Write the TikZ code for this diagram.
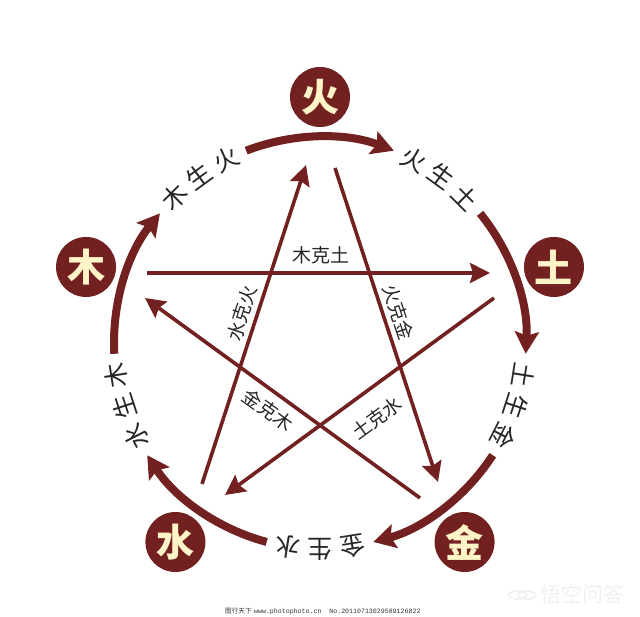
\documentclass[tikz,border=0pt]{standalone}
\usepackage{fontspec}
\newfontfamily\cjk{Noto Sans CJK SC}
\newfontfamily\monof{Liberation Mono}
\usetikzlibrary{arrows.meta,calc}
\definecolor{dkred}{HTML}{722020}
\definecolor{cream}{HTML}{FFF4C8}
\definecolor{wm}{HTML}{F0F0F0}
\tikzset{
  elem/.style={circle,fill=dkred,minimum size=60pt,inner sep=0pt,text=cream,
    font=\cjk\bfseries\fontsize{38}{38}\selectfont},
  ring/.style={draw=dkred,line width=8pt,-{Stealth[length=22pt,width=24pt,inset=4pt]}},
  ke/.style={draw=dkred,line width=3.6pt,-{Stealth[length=20pt,width=20pt,inset=3pt]}},
  ringlbl/.style={inner sep=0pt,text=black!85,font=\cjk\fontsize{25}{25}\selectfont},
  kelbl/.style={inner sep=0pt,text=black!85,font=\cjk\fontsize{19}{19}\selectfont}
}
\begin{document}
\begin{tikzpicture}[x=1pt,y=1pt]
\useasboundingbox (0,0) rectangle (640,617);
\fill[white] (0,0) rectangle (640,617);
\coordinate (C) at (320,274);
% element nodes
\foreach \n/\t/\a in {huo/火/90, tu/土/18, jin/金/-54, shui/水/-126, mu/木/162}
  \node[elem] (\n) at ($(C)+(\a:246)$) {\t};
% generating ring arcs
\foreach \a [evaluate=\a as \s using \a+21, evaluate=\a as \e using \a-21] in {90,18,-54,-126,162}
  \draw[ring] ($(C)+(\s:206)$) arc[start angle=\s,end angle=\e,radius=206];
% ring labels
\foreach \m/\x/\y/\z/\i in {54/火/生/土/1, -18/土/生/金/2, -90/金/生/水/3, 198/水/生/木/4, 126/木/生/火/5}{
  \node[ringlbl,rotate=\m+9-90] (r\i a) at ($(C)+(\m+9:206)$) {\x};
  \node[ringlbl,rotate=\m-90] (r\i b) at ($(C)+(\m:206)$) {\y};
  \node[ringlbl,rotate=\m-9-90] (r\i c) at ($(C)+(\m-9:206)$) {\z};
}
% overcoming star
\coordinate (mA) at (147,344); \coordinate (mB) at (490,344);
\coordinate (hA) at (335,449); \coordinate (hB) at (438,135);
\coordinate (tA) at (494,319); \coordinate (tB) at (225,122);
\coordinate (jA) at (420,119); \coordinate (jB) at (145,319);
\coordinate (sA) at (202,133); \coordinate (sB) at (306,452);
\draw[ke] (mA) -- (mB);
\draw[ke] (hA) -- (hB);
\draw[ke] (tA) -- (tB);
\draw[ke] (jA) -- (jB);
\draw[ke] (sA) -- (sB);
\node[kelbl] (kmt) at (321,362) {木克土};
\node[kelbl,rotate=-71.8] (khj) at (398,305) {火克金};
\node[kelbl,rotate=71.9] (ksh) at (242,304) {水克火};
\node[kelbl,rotate=-36] (kjm) at (268,207) {金克木};
\node[kelbl,rotate=36.2] (kts) at (377,199) {土克水};
% watermarks
\node[anchor=west,inner sep=0pt,text=black!80,font=\fontsize{6.6}{6.6}\selectfont] (wm1) at (225,6)
  {{\cjk 图行天下} {\monof www.photophoto.cn\ \ No.20110713029589126822}};
\node[anchor=west,inner sep=0pt,text=wm,font=\cjk\fontsize{21}{21}\selectfont] (wm2) at (540,23) {悟空问答};
\draw[wm,line width=1.5pt] (518,22) ellipse[x radius=9,y radius=4];
\draw[wm,line width=1.5pt] (527,22) ellipse[x radius=9,y radius=4];
\end{tikzpicture}
\end{document}
